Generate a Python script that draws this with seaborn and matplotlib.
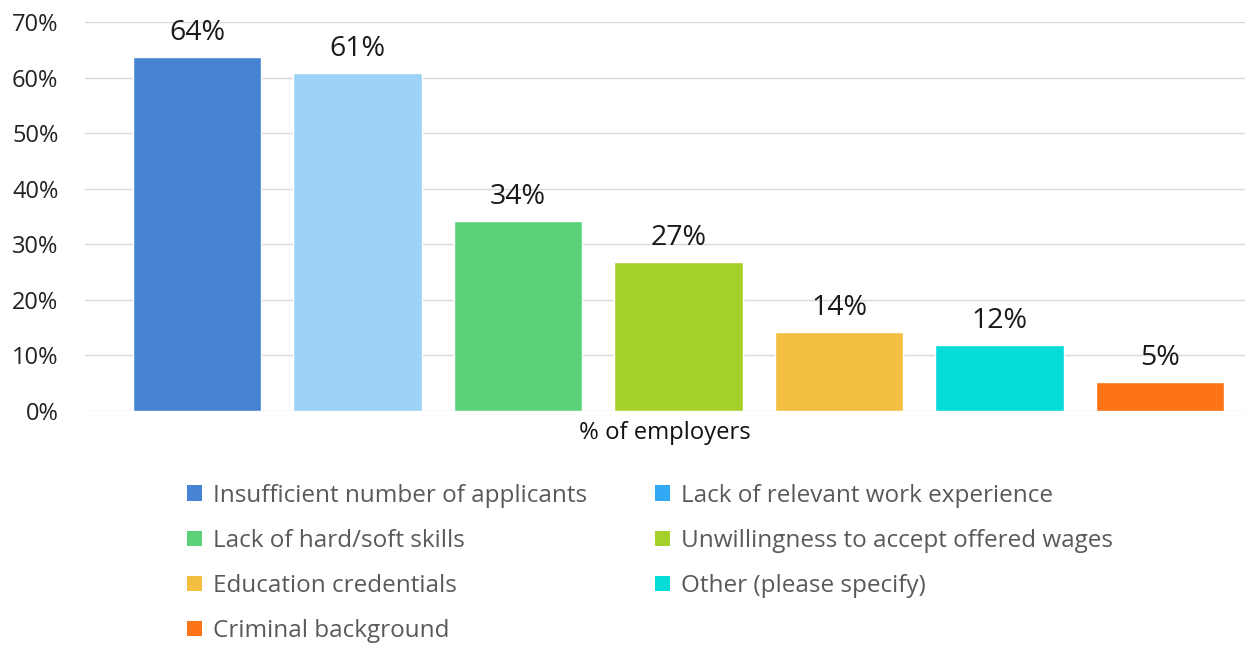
import matplotlib
matplotlib.use("Agg")
import matplotlib.pyplot as plt
import seaborn as sns
import pandas as pd
from matplotlib.patches import Patch

categories = [
    "Insufficient number of applicants",
    "Lack of relevant work experience",
    "Lack of hard/soft skills",
    "Unwillingness to accept offered wages",
    "Education credentials",
    "Other (please specify)",
    "Criminal background",
]
values = [63.7, 60.8, 34.2, 26.8, 14.2, 11.9, 5.3]
value_labels = ["64%", "61%", "34%", "27%", "14%", "12%", "5%"]
bar_colors = ["#4683D3", "#9DD3F7", "#5CD17A", "#A5CF29", "#F3BF40", "#05DCD8", "#FD7416"]
legend_colors = ["#4683D3", "#31A8F4", "#5CD17A", "#A5CF29", "#F3BF40", "#05DCD8", "#FD7416"]
yticks = [0, 10, 20, 30, 40, 50, 60, 70]
ytick_labels = ["0%", "10%", "20%", "30%", "40%", "50%", "60%", "70%"]
xlabel = "% of employers"

sns.set_theme(style="white")
plt.rcParams["font.family"] = ["Open Sans", "DejaVu Sans"]

df = pd.DataFrame({"cat": categories, "val": values})

fig = plt.figure(figsize=(12.48, 6.45), dpi=100)
ax = fig.add_axes([0.068, 0.3628, 0.9296, 0.6031])

sns.barplot(data=df, x="cat", y="val", hue="cat", palette=bar_colors,
            order=categories, hue_order=categories, dodge=False,
            width=0.8, legend=False, ax=ax, saturation=1)

for cont, lab in zip(ax.containers, value_labels):
    ax.bar_label(cont, labels=[lab], padding=7, fontsize=20.5, color="#1a1a1a")

ax.set_ylim(0, 70)
ax.set_xlim(-0.70, 6.53)
ax.set_yticks(yticks)
ax.set_yticklabels(ytick_labels, fontsize=17, color="#222222")
ax.set_xticks([])
ax.set_xlabel(xlabel, fontsize=17.2, color="#111111", labelpad=7)
ax.set_ylabel("")
ax.yaxis.grid(True, color="#D9D9D9", linewidth=1)
ax.set_axisbelow(True)
ax.tick_params(axis="y", length=0, pad=19)
for s in ax.spines.values():
    s.set_visible(False)

handles = [Patch(facecolor=c, edgecolor="none") for c in legend_colors]
left_idx = [0, 2, 4, 6]
right_idx = [1, 3, 5]
common = dict(frameon=False, fontsize=17.5, handlelength=0.6, handleheight=0.6,
              handletextpad=0.45, labelspacing=0.87, labelcolor="#595959",
              borderaxespad=0, borderpad=0)
fig.legend([handles[i] for i in left_idx], [categories[i] for i in left_idx],
           loc="upper left", bbox_to_anchor=(0.150, 0.250), **common)
fig.legend([handles[i] for i in right_idx], [categories[i] for i in right_idx],
           loc="upper left", bbox_to_anchor=(0.525, 0.250), **common)

fig.savefig("out.png", dpi=100)
